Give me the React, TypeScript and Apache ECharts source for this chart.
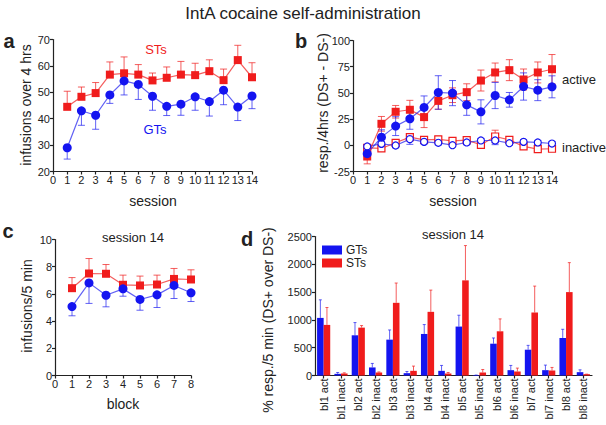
import React, { useEffect, useRef } from "react";
import * as echarts from "echarts";

// ---------- data ----------
const sessions = [1, 2, 3, 4, 5, 6, 7, 8, 9, 10, 11, 12, 13, 14];
const aST = [44.5, 48.3, 49.7, 56.7, 57.2, 56.7, 54.5, 55.5, 56.7, 56.5, 58.0, 54.6, 62.2, 55.7];
const aSTerr = [5.9, 3.7, 4.0, 4.8, 6.2, 3.8, 2.8, 4.1, 5.0, 4.5, 4.3, 4.2, 5.6, 5.5];
const aGT = [29, 43, 41.3, 49, 54.3, 53, 48.5, 44.7, 45.5, 48.3, 46.5, 50.8, 44.4, 48.6];
const aGTerr = [4.3, 5.5, 5.3, 3.2, 5.3, 5.7, 5.3, 3.5, 4.2, 5.1, 5.5, 5.5, 5.1, 4.8];

const bSTact = [-10.7, 20.5, 32, 33.9, 26.9, 42.4, 47.8, 50.7, 61.8, 69.5, 71.7, 62.8, 69.5, 72.6];
const bSTactErr = [7, 7, 6, 9, 10, 8, 7, 8, 10, 9, 10, 10, 10, 14];
const bGTact = [-8, 7.8, 18.3, 25.3, 36.1, 50.4, 49.8, 38.6, 31.9, 47.5, 43.4, 56.1, 52.6, 55.8];
const bGTactErr = [3, 7, 9, 10, 11, 16, 12, 10, 11.5, 12.5, 7, 13, 10, 10.5];
const bSTinact = [-2.5, -3, 2.4, 7.8, 5.2, 5.6, 4.3, 4.9, 0.5, 8.4, 5.2, -1.1, -3.7, -3.3];
const bSTinactErr = [2, 2, 3, 3, 2, 3, 2, 2, 2, 6, 3, 2, 2, 2];
const bGTinact = [-1.1, 1.4, -0.2, 5.9, 3.3, 2.4, 0.1, 2.7, 4.6, 4.6, 2, 3.3, 2.7, 1.7];
const bGTinactErr = [1.5, 2, 2, 5, 2, 2, 1.5, 2, 2, 4, 2, 2, 2, 2];

const blocks = [1, 2, 3, 4, 5, 6, 7, 8];
const cST = [6.42, 7.5, 7.48, 6.67, 6.62, 6.69, 7.1, 7.06];
const cSTerr = [0.78, 1.1, 0.68, 0.71, 0.69, 0.69, 0.77, 0.71];
const cGT = [5.07, 6.81, 5.9, 6.37, 5.59, 5.93, 6.62, 6.08];
const cGTerr = [0.68, 1.51, 0.85, 0.54, 0.79, 0.93, 0.96, 0.64];

const dCats = [
  "bl1 act", "bl1 inact", "bl2 act", "bl2 inact", "bl3 act", "bl3 inact", "bl4 act", "bl4 inact",
  "bl5 act", "bl5 inact", "bl6 act", "bl6 inact", "bl7 act", "bl7 inact", "bl8 act", "bl8 inact",
];
const dGT = [1036, 30, 723, 145, 645, 42, 747, 84, 880, 8, 572, 96, 464, 96, 675, 60];
const dGTerr = [325, 24, 229, 72, 174, 30, 169, 97, 204, 0, 103, 85, 78, 91, 156, 42];
const dST = [910, 36, 861, 54, 1307, 84, 1145, 36, 1711, 54, 795, 72, 1133, 90, 1500, 24];
const dSTerr = [313, 12, 37, 10, 356, 85, 391, 18, 626, 54, 223, 61, 475, 55, 530, 0];

// ---------- styles ----------
const RED = "#f01c1c";
const BLUE = "#1414f0";
const RED_L = "rgba(240,40,40,0.75)";
const BLUE_L = "rgba(30,30,240,0.7)";
const FONT = "Liberation Sans, Arial, Helvetica, sans-serif";
const AX = "#222";

function errRender(color: string, capW: number) {
  return (params: any, api: any) => {
    const x = api.value(0);
    const lo = api.value(1);
    const hi = api.value(2);
    const capLo = api.value(3);
    const capHi = api.value(4);
    const off = api.value(5) || 0;
    let p1 = api.coord([x, lo]);
    let p2 = api.coord([x, hi]);
    if (off) {
      const bw = api.size([1, 0])[0];
      p1 = [p1[0] + off * bw, p1[1]];
      p2 = [p2[0] + off * bw, p2[1]];
    }
    const st = { stroke: color, lineWidth: 1 };
    const children: any[] = [
      { type: "line", shape: { x1: p1[0], y1: p1[1], x2: p2[0], y2: p2[1] }, style: st },
    ];
    if (capLo)
      children.push({ type: "line", shape: { x1: p1[0] - capW, y1: p1[1], x2: p1[0] + capW, y2: p1[1] }, style: st });
    if (capHi)
      children.push({ type: "line", shape: { x1: p2[0] - capW, y1: p2[1], x2: p2[0] + capW, y2: p2[1] }, style: st });
    return { type: "group", children };
  };
}

function valAxis(gridIndex: number, min: number, max: number, interval: number, extra: any = {}) {
  return {
    type: "value",
    gridIndex,
    min,
    max,
    interval,
    splitLine: { show: false },
    axisLine: { show: true, onZero: false, lineStyle: { color: AX, width: 1.2 } },
    axisTick: { show: true, length: 3, lineStyle: { color: AX, width: 1.2 } },
    axisLabel: {
      color: "#222",
      fontSize: 11,
      fontFamily: FONT,
      margin: 3,
      formatter: (v: number) => String(v),
    },
    ...extra,
  };
}

export default function App() {
  const ref = useRef<HTMLDivElement>(null);
  useEffect(() => {
    if (!ref.current) return;
    const chart = echarts.init(ref.current, undefined, { renderer: "svg" });

    const pair = (xs: number[], ys: number[]) => xs.map((x, i) => [x, ys[i]]);
    const upErr = (xs: number[], ys: number[], es: number[]) => xs.map((x, i) => [x, ys[i], ys[i] + es[i], 0, 1, 0]);
    const downErr = (xs: number[], ys: number[], es: number[]) => xs.map((x, i) => [x, ys[i] - es[i], ys[i], 1, 0, 0]);
    const bothErr = (xs: number[], ys: number[], es: number[]) => xs.map((x, i) => [x, ys[i] - es[i], ys[i] + es[i], 1, 1, 0]);

    const lineS = (name: string, xi: number, data: any[], color: string, lineColor: string, symbol: string, size: number, filled = true) => ({
      type: "line",
      name,
      xAxisIndex: xi,
      yAxisIndex: xi,
      data,
      symbol,
      symbolSize: size,
      showSymbol: true,
      itemStyle: filled ? { color } : { color: "#fff", borderColor: color, borderWidth: 1.2 },
      lineStyle: { color: lineColor, width: 1.2 },
      z: 3,
    });
    const errS = (xi: number, data: any[], color: string, capW = 3.5) => ({
      type: "custom",
      xAxisIndex: xi,
      yAxisIndex: xi,
      renderItem: errRender(color, capW),
      data,
      encode: { x: 0, y: [1, 2] },
      z: 2,
      silent: true,
    });

    const catIdx = dCats.map((_, i) => i);
    const dErrGT = catIdx.map((i) => [i, dGT[i], dGT[i] + dGTerr[i], 0, 1, -0.19]);
    const dErrST = catIdx.map((i) => [i, dST[i], dST[i] + dSTerr[i], 0, 1, 0.19]);

    const txt = (text: string, x: number, y: number, o: any = {}) => ({
      type: "text",
      x,
      y,
      rotation: o.rotation || 0,
      style: {
        text,
        fill: o.fill || "#222",
        fontSize: o.fontSize || 14,
        fontWeight: o.fontWeight || "normal",
        fontFamily: FONT,
        textAlign: o.align || "center",
        textVerticalAlign: "middle",
      },
    });

    chart.setOption({
      animation: false,
      backgroundColor: "#fff",
      grid: [
        { left: 53, top: 39.5, width: 199, height: 132 },
        { left: 353, top: 40.5, width: 199, height: 131 },
        { left: 55, top: 239.5, width: 136, height: 136 },
        { left: 315, top: 236.5, width: 277, height: 139 },
      ],
      xAxis: [
        valAxis(0, 0, 14, 1),
        valAxis(1, 0, 14, 1),
        valAxis(2, 0, 8, 1),
        {
          type: "category",
          gridIndex: 3,
          data: dCats,
          axisLine: { show: true, lineStyle: { color: AX, width: 1.2 } },
          axisTick: { show: true, alignWithLabel: true, length: 3, lineStyle: { color: AX, width: 1.2 } },
          axisLabel: { color: "#222", fontSize: 11, fontFamily: FONT, rotate: 90, interval: 0, margin: 3 },
        },
      ],
      yAxis: [
        valAxis(0, 20, 70, 10),
        valAxis(1, -25, 100, 25),
        valAxis(2, 0, 10, 2),
        valAxis(3, 0, 2500, 500),
      ],
      legend: {
        data: [
          { name: "GTs", icon: "rect" },
          { name: "STs", icon: "rect" },
        ],
        orient: "vertical",
        left: 322,
        top: 244,
        itemWidth: 20,
        itemHeight: 9,
        itemGap: 1,
        textStyle: { fontSize: 12, fontFamily: FONT, color: "#222", padding: [0, 0, 0, -1] },
        padding: 0,
      },
      series: [
        // panel a
        errS(0, upErr(sessions, aST, aSTerr), RED_L),
        errS(0, downErr(sessions, aGT, aGTerr), BLUE_L),
        lineS("a STs", 0, pair(sessions, aST), RED, RED_L, "rect", 8),
        lineS("a GTs", 0, pair(sessions, aGT), BLUE, BLUE_L, "circle", 9),
        // panel b
        errS(1, bothErr(sessions, bSTact, bSTactErr), RED_L),
        errS(1, bothErr(sessions, bGTact, bGTactErr), BLUE_L),
        errS(1, bothErr(sessions, bSTinact, bSTinactErr), RED_L),
        errS(1, bothErr(sessions, bGTinact, bGTinactErr), BLUE_L),
        lineS("b STs inact", 1, pair(sessions, bSTinact), RED, RED_L, "rect", 7, false),
        lineS("b GTs inact", 1, pair(sessions, bGTinact), BLUE, BLUE_L, "circle", 7, false),
        lineS("b STs act", 1, pair(sessions, bSTact), RED, RED_L, "rect", 8),
        lineS("b GTs act", 1, pair(sessions, bGTact), BLUE, BLUE_L, "circle", 9),
        // panel c
        errS(2, upErr(blocks, cST, cSTerr), RED_L),
        errS(2, downErr(blocks, cGT, cGTerr), BLUE_L),
        lineS("c STs", 2, pair(blocks, cST), RED, RED_L, "rect", 8),
        lineS("c GTs", 2, pair(blocks, cGT), BLUE, BLUE_L, "circle", 9),
        // panel d
        {
          type: "bar",
          name: "GTs",
          xAxisIndex: 3,
          yAxisIndex: 3,
          data: dGT,
          itemStyle: { color: BLUE },
          barGap: "0%",
          barCategoryGap: "24%",
          z: 3,
        },
        {
          type: "bar",
          name: "STs",
          xAxisIndex: 3,
          yAxisIndex: 3,
          data: dST,
          itemStyle: { color: RED },
          barGap: "0%",
          barCategoryGap: "24%",
          z: 3,
        },
        errS(3, dErrGT, BLUE_L, 1.5),
        errS(3, dErrST, RED_L, 1.5),
      ],
      graphic: [
        txt("IntA cocaine self-administration", 303, 13, { fontSize: 17 }),
        txt("a", 9, 41, { fontSize: 20, fontWeight: "bold" }),
        txt("STs", 156, 49.5, { fontSize: 13, fill: RED }),
        txt("GTs", 155, 129, { fontSize: 13, fill: BLUE }),
        txt("session", 153, 201, { fontSize: 14 }),
        txt("infusions over 4 hrs", 26, 105, { fontSize: 14, rotation: Math.PI / 2 }),
        txt("b", 301, 41, { fontSize: 20, fontWeight: "bold" }),
        txt("active", 562, 79.5, { fontSize: 13, align: "left" }),
        txt("inactive", 562, 147, { fontSize: 13, align: "left" }),
        txt("session", 453, 201, { fontSize: 14 }),
        txt("resp./4hrs (DS+ - DS-)", 323, 103, { fontSize: 14, rotation: Math.PI / 2 }),
        txt("c", 8, 231, { fontSize: 20, fontWeight: "bold" }),
        txt("session 14", 133, 237, { fontSize: 13 }),
        txt("infusions/5 min", 27, 306, { fontSize: 14, rotation: Math.PI / 2 }),
        txt("block", 123, 404, { fontSize: 14 }),
        txt("d", 247, 239, { fontSize: 20, fontWeight: "bold" }),
        txt("session 14", 453, 234, { fontSize: 13 }),
        txt("% resp./5 min (DS+ over DS-)", 268, 320, { fontSize: 14, rotation: Math.PI / 2 }),
      ],
    });
    return () => chart.dispose();
  }, []);
  return (
    <div
      ref={ref}
      style={{ position: "fixed", left: 0, top: 0, width: 606, height: 425, background: "#fff" }}
    />
  );
}
